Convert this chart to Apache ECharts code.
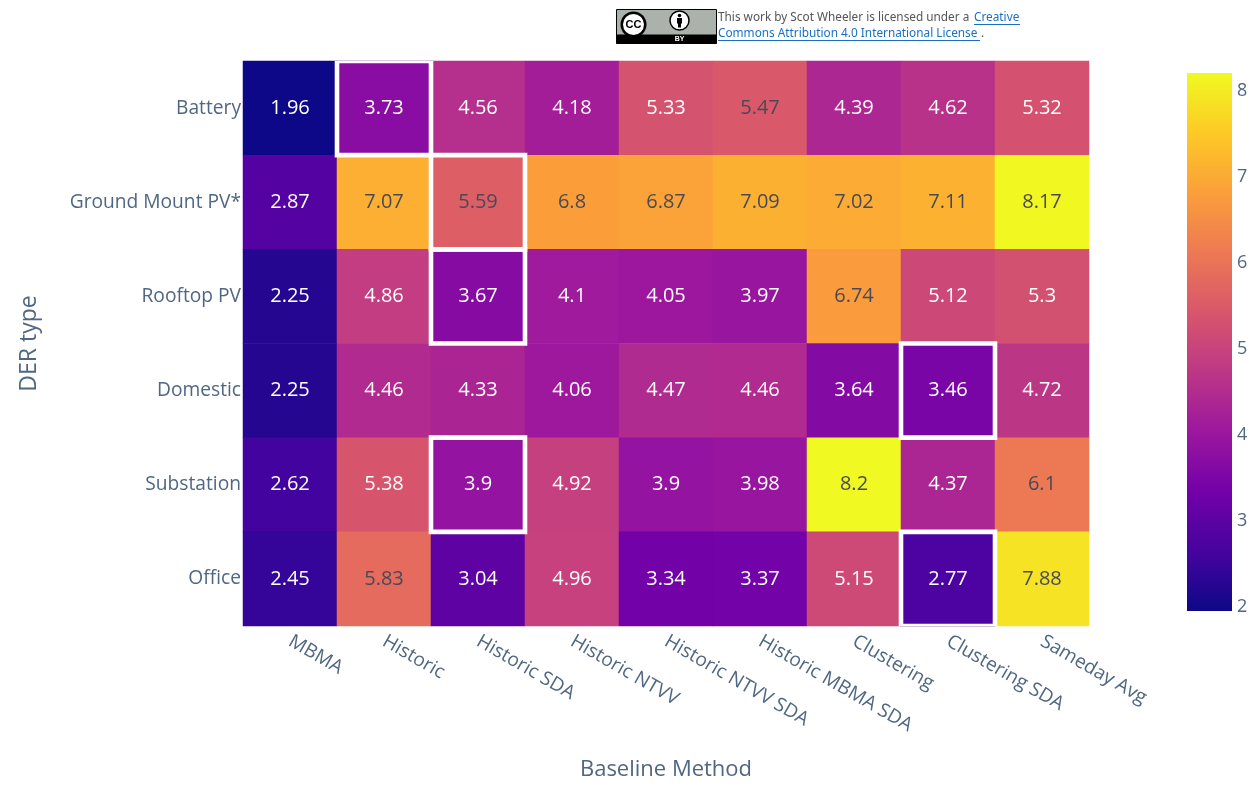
<!DOCTYPE html>
<html><head><meta charset="utf-8">
<style>html,body{margin:0;padding:0;background:#fff}#c{width:1255px;height:786px}</style>
<script src="https://cdn.jsdelivr.net/npm/echarts@6/dist/echarts.min.js"></script>
</head><body><div id="c"></div>
<script>
const methods = ['MBMA','Historic','Historic SDA','Historic NTVV','Historic NTVV SDA','Historic MBMA SDA','Clustering','Clustering SDA','Sameday Avg'];
const derTypes = ['Battery','Ground Mount PV*','Rooftop PV','Domestic','Substation','Office'];
const battery   = [1.96,3.73,4.56,4.18,5.33,5.47,4.39,4.62,5.32];
const ground    = [2.87,7.07,5.59,6.8,6.87,7.09,7.02,7.11,8.17];
const rooftop   = [2.25,4.86,3.67,4.1,4.05,3.97,6.74,5.12,5.3];
const domestic  = [2.25,4.46,4.33,4.06,4.47,4.46,3.64,3.46,4.72];
const substation= [2.62,5.38,3.9,4.92,3.9,3.98,8.2,4.37,6.1];
const office    = [2.45,5.83,3.04,4.96,3.34,3.37,5.15,2.77,7.88];
const rows = [battery,ground,rooftop,domestic,substation,office];
const bestCells = [[1,0],[2,1],[2,2],[7,3],[2,4],[7,5]];
const colorTicks = [2,3,4,5,6,7,8];
const plasma = ['#0d0887','#46039f','#7201a8','#9c179e','#bd3786','#d8576b','#ed7953','#fb9f3a','#fdca26','#f0f921'];
const textColor = '#506784';
const FONT = '"Open Sans", sans-serif';

const cells = [];
rows.forEach((r,y)=>r.forEach((v,x)=>cells.push({
  value:[x,y,v],
  label:{color: v>=5.4 ? '#4a4a55' : '#ffffff'}
})));

const chart = echarts.init(document.getElementById('c'),null,{renderer:'canvas'});
const noiseAxis = {axisLine:{show:false},axisTick:{show:false},splitLine:{show:false}};
chart.setOption({
  backgroundColor:'#fff',
  animation:false,
  textStyle:{fontFamily:FONT},
  grid:[
    {left:243,top:61,width:846,height:565},
    {left:1187,top:73,width:45,height:538}
  ],
  xAxis:[
    Object.assign({type:'category',data:methods,gridIndex:0,
      name:'Baseline Method',nameLocation:'middle',nameGap:133,
      nameTextStyle:{fontSize:22,color:textColor,fontFamily:FONT},
      axisLabel:{rotate:-30,interval:0,fontSize:19.2,color:textColor,margin:14,fontFamily:FONT}},noiseAxis),
    Object.assign({type:'value',gridIndex:1,show:false,min:0,max:1},noiseAxis)
  ],
  yAxis:[
    Object.assign({type:'category',data:derTypes,inverse:true,gridIndex:0,
      name:'DER type',nameLocation:'middle',nameGap:202,
      nameTextStyle:{fontSize:23,color:textColor,fontFamily:FONT},
      axisLabel:{interval:0,fontSize:19.2,color:textColor,margin:2,fontFamily:FONT}},noiseAxis),
    Object.assign({type:'value',gridIndex:1,position:'right',min:1.95,max:8.21,
      axisLabel:{customValues:colorTicks,fontSize:18,color:textColor,margin:5,fontFamily:FONT,
        padding:[4,0,0,0],showMinLabel:true,showMaxLabel:true,formatter:v=>String(v)}},noiseAxis)
  ],
  visualMap:{
    type:'continuous',seriesIndex:0,min:1.96,max:8.2,show:false,
    inRange:{color:plasma}
  },
  series:[
    {type:'heatmap',xAxisIndex:0,yAxisIndex:0,data:cells,
      label:{show:true,fontSize:20,fontFamily:FONT,padding:[2,0,0,0],formatter:p=>String(p.value[2])},
      emphasis:{disabled:true},progressive:0},
    {type:'custom',xAxisIndex:0,yAxisIndex:0,data:bestCells,clip:true,z:5,silent:true,
      encode:{x:0,y:1},
      renderItem(params,api){
        const c=api.coord([api.value(0),api.value(1)]);
        const s=api.size([1,1]);
        return {type:'rect',
          shape:{x:c[0]-s[0]/2,y:c[1]-s[1]/2,width:s[0],height:s[1]},
          style:{fill:'none',stroke:'#fff',lineWidth:4.6}};
      }}
  ],
  graphic:[
    {type:'rect',silent:true,shape:{x:1187,y:73,width:45,height:538},
      style:{fill:new echarts.graphic.LinearGradient(0,1,0,0,
        plasma.map((color,i)=>({offset:i/(plasma.length-1),color})))}},
    {type:'group',left:616,top:9,silent:true,children:[
      {type:'rect',shape:{x:0,y:0,width:100,height:34},style:{fill:'#aab2ab',stroke:'#000',lineWidth:1}},
      {type:'rect',shape:{x:0,y:25,width:100,height:9},style:{fill:'#000'}},
      {type:'circle',shape:{cx:17,cy:15,r:13},style:{fill:'#000'}},
      {type:'circle',shape:{cx:17,cy:15,r:10.5},style:{fill:'#fff'}},
      {type:'text',style:{x:17,y:15,text:'CC',align:'center',verticalAlign:'middle',font:'bold 11px "Liberation Sans"',fill:'#000'}},
      {type:'circle',shape:{cx:63,cy:11,r:9.5},style:{fill:'#fff',stroke:'#000',lineWidth:1.5}},
      {type:'circle',shape:{cx:63,cy:6,r:1.8},style:{fill:'#000'}},
      {type:'rect',shape:{x:60.5,y:8.5,width:5,height:5.5},style:{fill:'#000'}},
      {type:'rect',shape:{x:61.5,y:13,width:3,height:5},style:{fill:'#000'}},
      {type:'text',style:{x:63,y:30,text:'BY',align:'center',verticalAlign:'middle',font:'bold 7px "Liberation Sans"',fill:'#fff'}}
    ]},
    {type:'text',left:718,top:12,silent:true,style:{text:'This work by Scot Wheeler is licensed under a',font:'11.8px "Noto Sans"',fill:'#555'}},
    {type:'text',left:974,top:12,silent:true,style:{text:'Creative',font:'11.8px "Noto Sans"',fill:'#1a6fc4'}},
    {type:'rect',silent:true,shape:{x:974,y:24,width:46,height:1},style:{fill:'#1a6fc4'}},
    {type:'text',left:718,top:28,silent:true,style:{text:'Commons Attribution 4.0 International License',font:'11.8px "Noto Sans"',fill:'#1a6fc4'}},
    {type:'rect',silent:true,shape:{x:718,y:40,width:262,height:1},style:{fill:'#1a6fc4'}},
    {type:'text',left:981,top:28,silent:true,style:{text:'.',font:'11.8px "Noto Sans"',fill:'#555'}}
  ]
});
</script></body></html>
